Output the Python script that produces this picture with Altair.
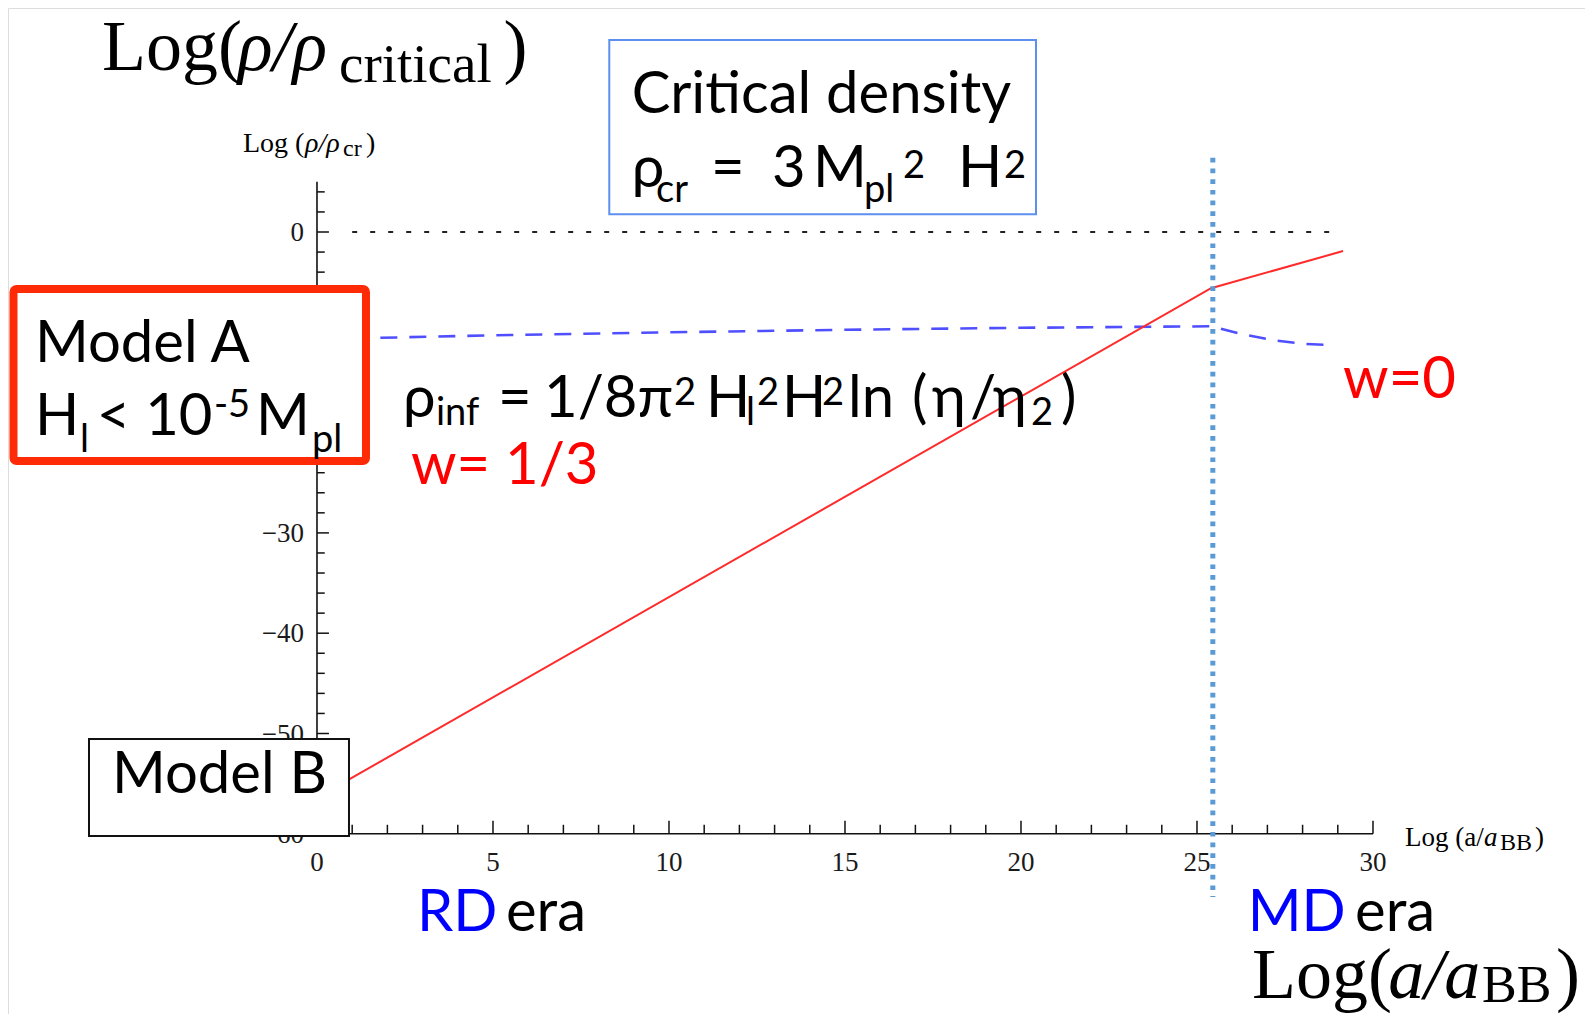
import altair as alt
import pandas as pd

# ---------------- data ----------------
# w=1/3 (radiation) then w=0 (matter) total density, red
RED_X = [0.0, 25.4, 29.15]
RED_Y = [-56.4, -5.6, -1.9]
# rho_inf / rho_cr, blue dashed
BLUE_X = [1.8, 5.0, 10.0, 15.0, 20.0, 25.4, 26.3, 27.2, 28.0, 28.9]
BLUE_Y = [-10.55, -10.3, -10.0, -9.75, -9.55, -9.4, -10.2, -10.8, -11.15, -11.3]
# critical density level, black dotted
CRIT_X = [1.0, 28.85]
CRIT_Y = [0.0, 0.0]
# RD -> MD transition, light blue dotted
ERA_X = [25.45, 25.45]
ERA_Y = [7.4, -66.3]

X_TICKS = [0, 5, 10, 15, 20, 25, 30]
Y_TICKS = [0, -10, -20, -30, -40, -50, -60]
X_MINOR = list(range(1, 31))
Y_MINOR = list(range(4, -59, -2))

X_DOMAIN = [-8.778, 36.023]
Y_DOMAIN = [-77.966, 22.333]

xs = alt.Scale(domain=X_DOMAIN, nice=False, zero=False)
ys = alt.Scale(domain=Y_DOMAIN, nice=False, zero=False)


def X(f="x"):
    return alt.X(f"{f}:Q", scale=xs, axis=None)


def Y(f="y"):
    return alt.Y(f"{f}:Q", scale=ys, axis=None)


# ---------------- axes (Mathematica style, crossing) ----------------
axis_df = pd.DataFrame({
    "x": [0, 0], "x2": [0, 30], "y": [5, -60], "y2": [-60, -60]
})
axes = alt.Chart(axis_df).mark_rule(color="#111", strokeWidth=1.6).encode(
    x=X(), x2="x2:Q", y=Y(), y2="y2:Q")

tick_rows = []
for k in X_MINOR:
    tick_rows.append({"x": k, "x2": k, "y": -60, "y2": -60 + (1.3 if k % 5 == 0 else 0.9)})
for k in Y_MINOR:
    tick_rows.append({"x": 0, "x2": (0.34 if k % 10 == 0 else 0.22), "y": k, "y2": k})
ticks = alt.Chart(pd.DataFrame(tick_rows)).mark_rule(color="#111", strokeWidth=1.5).encode(
    x=X(), x2="x2:Q", y=Y(), y2="y2:Q")

ylab_df = pd.DataFrame({"y": Y_TICKS, "x": [0] * len(Y_TICKS),
                        "t": [("0" if v == 0 else "\u2212" + str(-v)) for v in Y_TICKS]})
ylabels = alt.Chart(ylab_df).mark_text(
    align="right", baseline="middle", dx=-13, dy=1, fontSize=27,
    font="Liberation Serif", color="#1a1a1a").encode(x=X(), y=Y(), text="t:N")

xlab_df = pd.DataFrame({"x": X_TICKS, "y": [-60] * len(X_TICKS),
                        "t": [str(v) for v in X_TICKS]})
xlabels = alt.Chart(xlab_df).mark_text(
    align="center", baseline="middle", dy=29, fontSize=27,
    font="Liberation Serif", color="#1a1a1a").encode(x=X(), y=Y(), text="t:N")

# ---------------- curves ----------------
crit = alt.Chart(pd.DataFrame({"x": CRIT_X, "y": CRIT_Y})).mark_line(
    color="#222", strokeWidth=2, strokeDash=[5, 13]).encode(x=X(), y=Y())
blue = alt.Chart(pd.DataFrame({"x": BLUE_X, "y": BLUE_Y})).mark_line(
    color="#3030ff", strokeWidth=2.6, opacity=0.85, strokeDash=[17, 12]).encode(x=X(), y=Y())
red = alt.Chart(pd.DataFrame({"x": RED_X, "y": RED_Y})).mark_line(
    color="#ff2a2a", strokeWidth=2).encode(x=X(), y=Y())
era = alt.Chart(pd.DataFrame({"x": ERA_X, "y": ERA_Y})).mark_line(
    color="#5b9bd5", strokeWidth=5, strokeDash=[4.7, 6]).encode(x=X(), y=Y())

# ---------------- annotation boxes ----------------
box_crit = alt.Chart(pd.DataFrame({"x": [8.304], "x2": [20.426], "y": [19.14], "y2": [1.765]})).mark_rect(
    fill="white", stroke="#5c8fee", strokeWidth=2).encode(x=X(), x2="x2:Q", y=Y(), y2="y2:Q")
box_a = alt.Chart(pd.DataFrame({"x": [-8.622], "x2": [1.392], "y": [-5.683], "y2": [-22.83]})).mark_rect(
    fill="white", stroke="#ff2b06", strokeWidth=8, cornerRadius=3).encode(x=X(), x2="x2:Q", y=Y(), y2="y2:Q")
box_b = alt.Chart(pd.DataFrame({"x": [-6.477], "x2": [0.909], "y": [-50.55], "y2": [-60.22]})).mark_rect(
    fill="white", stroke="#111", strokeWidth=2).encode(x=X(), x2="x2:Q", y=Y(), y2="y2:Q")

# ---------------- texts ----------------
K, R, B = "#000000", "#ff0000", "#0000ff"
M, S = 58, 38  # main / sub-superscript sizes (sans)

SANS = [
    # Critical density box
    ("Critical density", 8.94, 11.83, M, K),
    ("\u03c1", 8.94, 4.49, M, K),
    ("cr", 9.631, 2.99, S, K),
    ("=", 11.193, 4.49, M, K),
    ("3", 12.926, 4.49, M, K),
    ("M", 14.09, 4.49, M, K),
    ("pl", 15.54, 2.99, S, K),
    ("2", 16.648, 5.38, S, K),
    ("H", 18.21, 4.49, M, K),
    ("2", 19.52, 5.38, S, K),
    # Model A box
    ("Model A", -8.011, -12.93, M, K),
    ("H", -8.011, -20.24, M, K),
    ("l", -6.733, -21.90, S, K),
    ("< 10", -6.259, -20.24, M, K),
    ("-5", -2.926, -18.41, S, K),
    ("M", -1.733, -20.24, M, K),
    ("pl", -0.142, -21.90, S, K),
    # rho_inf formula
    ("\u03c1", 2.443, -18.44, M, K),
    ("inf", 3.381, -19.24, S, K),
    ("=", 5.142, -18.44, M, K),
    ("1/8\u03c0", 6.449, -18.44, M, K),
    ("2", 10.14, -17.25, S, K),
    ("H", 11.051, -18.44, M, K),
    ("l", 12.188, -19.24, S, K),
    ("2", 12.50, -17.25, S, K),
    ("H", 13.21, -18.44, M, K),
    ("2", 14.347, -17.25, S, K),
    ("ln", 15.085, -18.44, M, K),
    ("(", 16.903, -18.44, M, K),
    ("\u03b7", 17.472, -18.44, M, K),
    ("/", 18.551, -18.44, M, K),
    ("\u03b7", 19.205, -18.44, M, K),
    ("2", 20.284, -19.24, S, K),
    (")", 21.136, -18.44, M, K),
    # equation of state
    ("w= 1/3", 2.67, -25.12, M, R),
    ("w=0", 29.15, -16.55, M, R),
    # Model B
    ("Model B", -5.824, -55.98, M, K),
    # eras
    ("RD", 2.841, -69.69, M, B),
    ("era", 5.369, -69.69, M, K),
    ("MD", 26.44, -69.69, M, B),
    ("era", 29.49, -69.69, M, K),
]

SERIF = [
    # big vertical-axis title
    ("Log(", -6.108, 16.15, 72, K),
    ("critical", 0.625, 14.96, 55, K),
    (")", 5.30, 16.15, 72, K),
    # big horizontal-axis title
    ("Log(", 26.563, -76.37, 72, K),
    ("BB", 33.10, -76.77, 52, K),
    (")", 35.20, -76.37, 72, K),
    # small axis titles
    ("Log (", -2.102, 7.93, 28, K),
    ("cr", 0.739, 7.53, 24, K),
    (")", 1.392, 7.93, 28, K),
    ("Log (a/", 30.909, -61.22, 27, K),
    ("BB", 33.608, -61.66, 24, K),
    (")", 34.602, -61.22, 27, K),
]

SERIF_IT = [
    ("\u03c1/\u03c1", -2.244, 16.15, 72, K),
    ("a/a", 30.43, -76.37, 72, K),
    ("\u03c1/\u03c1", -0.341, 7.93, 28, K),
    ("a", 33.153, -61.22, 27, K),
]


def text_layer(rows, font, style="normal"):
    df = pd.DataFrame(rows, columns=["t", "x", "y", "fs", "c"])
    return alt.Chart(df).mark_text(
        align="left", baseline="alphabetic", font=font, fontStyle=style).encode(
        x=X(), y=Y(), text="t:N",
        size=alt.Size("fs:Q", scale=None, legend=None),
        color=alt.Color("c:N", scale=None, legend=None))


sans_font = "Lato, 'Open Sans', 'DejaVu Sans', sans-serif"
serif_font = "'Liberation Serif', 'DejaVu Serif', serif"

chart = alt.layer(
    axes, ticks, ylabels, xlabels,
    crit, blue, red, era,
    box_crit, box_a, box_b,
    text_layer(SANS, sans_font),
    text_layer(SERIF, serif_font),
    text_layer(SERIF_IT, serif_font, "italic"),
).properties(
    width=1577, height=1006, padding=0,
    autosize=alt.AutoSizeParams(type="none"),
).configure_view(strokeWidth=0).configure(background="white")

chart.save("out.html", embed_options={"renderer": "svg", "actions": False})
